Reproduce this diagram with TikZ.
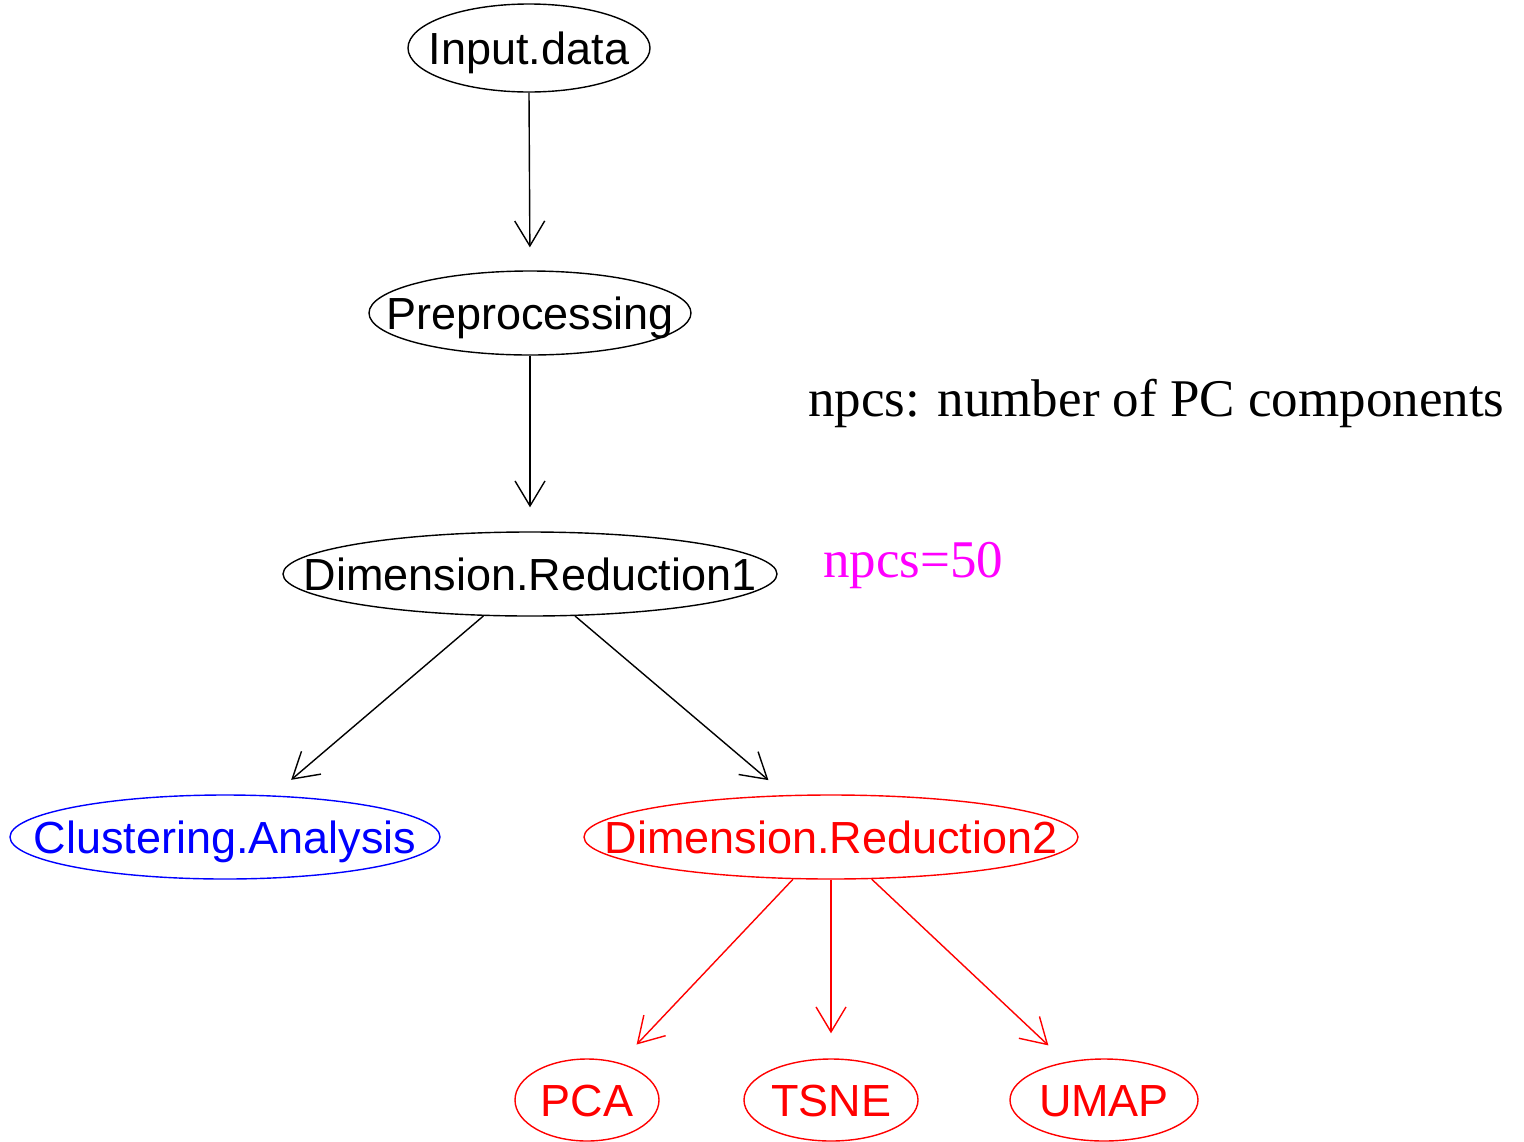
\documentclass[tikz,border=0pt]{standalone}
\usepackage{fontspec}
\setmainfont{Liberation Serif}
\setsansfont{Liberation Sans}
\usetikzlibrary{shapes.geometric,arrows.meta}
\definecolor{gblue}{RGB}{0,0,255}
\definecolor{gred}{RGB}{255,0,0}
\definecolor{gmag}{RGB}{255,0,255}
\newcommand\ztext[1]{\makebox[0pt]{#1}}
\tikzset{
  oval/.style={ellipse, draw, line width=1.4pt, inner sep=0pt, minimum height=84pt,
     font=\sffamily\fontsize{45}{50}\selectfont, text height=32pt, text depth=0pt},
  edge/.style={line width=1.4pt, -{Straight Barb[length=25pt,width=30pt,line width=1.4pt]}},
  note/.style={anchor=base west, inner sep=0pt, font=\rmfamily\fontsize{53}{60}\selectfont}
}
\begin{document}
\begin{tikzpicture}[x=1pt,y=-1pt]
\useasboundingbox (0,0) rectangle (1524,1141);
\node[oval, minimum width=242pt, minimum height=88pt] (in) at (529,48) {\ztext{Input.data}};
\node[oval, minimum width=322pt] (pre) at (530,313) {\ztext{Preprocessing}};
\node[oval, minimum width=494pt] (dr1) at (530,574) {\ztext{Dimension.Reduction1}};
\node[oval, gblue, minimum width=430pt] (ca) at (225,837) {\ztext{Clustering.Analysis}};
\node[oval, gred, minimum width=494pt] (dr2) at (831,837) {\ztext{Dimension.Reduction2}};
\node[oval, gred, minimum width=144pt, minimum height=82pt] (pca) at (587,1100) {\ztext{PCA}};
\node[oval, gred, minimum width=174pt, minimum height=82pt] (tsne) at (831,1100) {\ztext{TSNE}};
\node[oval, gred, minimum width=188pt, minimum height=82pt] (umap) at (1104,1100) {\ztext{UMAP}};
\node[note] (lab1) at (808,416) {npcs: number of PC components};
\node[note, gmag] (lab2) at (823,577) {npcs=50};
\draw[edge, shorten >=23pt] (in.south) -- (pre.north);
\draw[edge, shorten >=24pt] (pre.south) -- (dr1.north);
\draw[edge, shorten >=24pt] (dr1.-138) -- (ca.41.7);
\draw[edge, shorten >=23pt] (dr1.-43.7) -- (dr2.137.9);
\draw[edge, gred, shorten >=25pt] (dr2.-132) -- (pca.49.2);
\draw[edge, gred, shorten >=25pt] (dr2.south) -- (tsne.north);
\draw[edge, gred, shorten >=24pt] (dr2.-46) -- (umap.135.8);
\end{tikzpicture}
\end{document}
